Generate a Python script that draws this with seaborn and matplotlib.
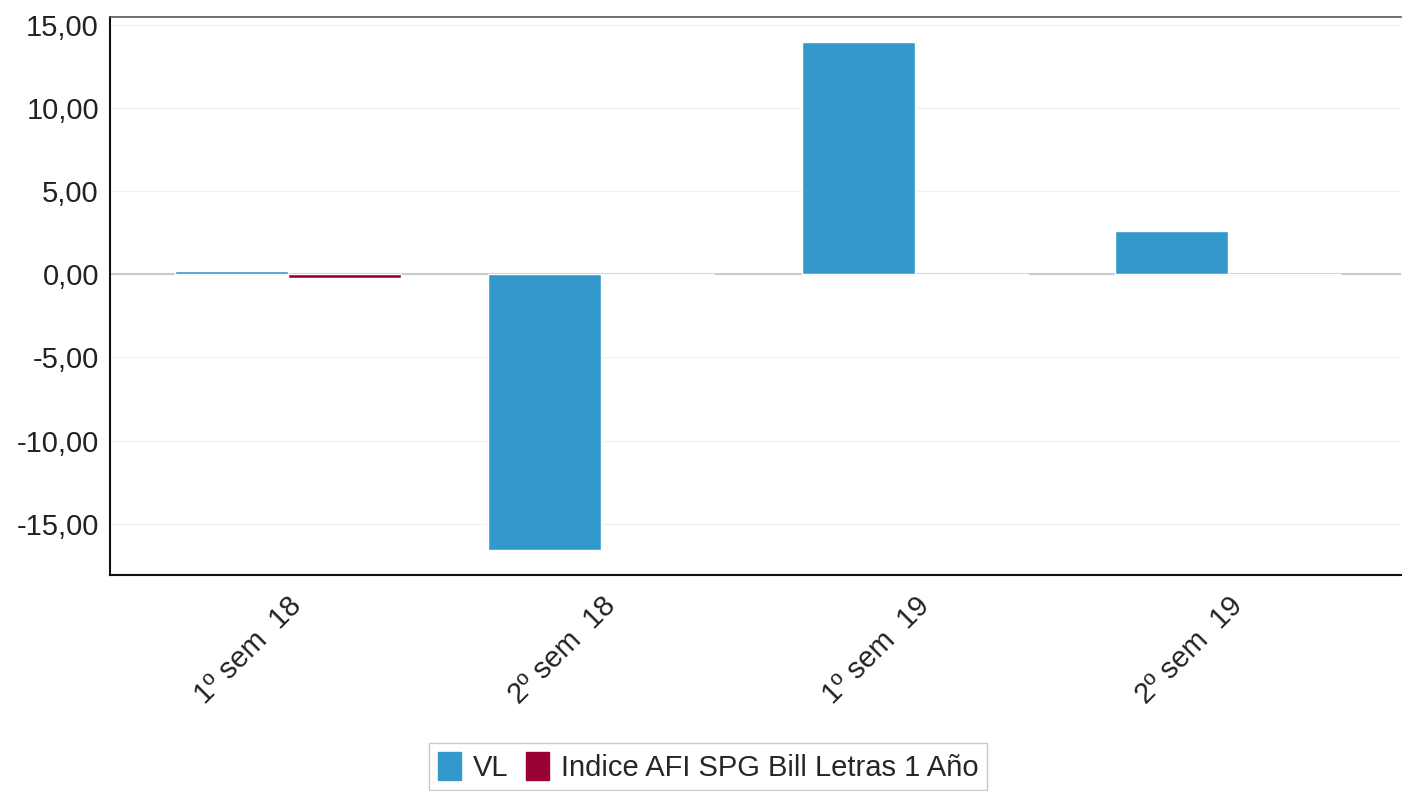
import matplotlib
matplotlib.use('Agg')
import matplotlib.pyplot as plt
import matplotlib.patches as mpatches
import numpy as np
import pandas as pd
import seaborn as sns

# data
periods = ['1º sem  18', '2º sem  18', '1º sem  19', '2º sem  19']
vl = [0.18, -16.6, 14.0, 2.6]
indice = [-0.24, -0.03, -0.03, 0.05]
series_names = ['VL', 'Indice AFI SPG Bill Letras 1 Año']
yticks = [-15, -10, -5, 0, 5, 10, 15]
ytick_labels = ['-15,00', '-10,00', '-5,00', '0,00', '5,00', '10,00', '15,00']

df = pd.DataFrame({
    'periodo': periods * 2,
    'valor': vl + indice,
    'serie': [series_names[0]] * 4 + [series_names[1]] * 4,
})

colores = ['#3399cc', '#990033']

sns.set_style('white')
plt.rcParams['font.family'] = ['Liberation Sans', 'DejaVu Sans']

fig = plt.figure(figsize=(14.03, 7.91), dpi=100)
ax = fig.add_axes([0.0784, 0.273, 0.92, 0.7055])

sns.barplot(data=df, x='periodo', y='valor', hue='serie', palette=colores,
            width=0.72, saturation=1, ax=ax, legend=False, zorder=3)

ax.set_xlim(-0.567, 3.55)
ax.set_ylim(-18.1, 15.5)
ax.set_yticks(yticks)
ax.set_yticklabels(ytick_labels, fontsize=21, color='#222222')
ax.yaxis.grid(True, color='#f2f2f2', linewidth=1, zorder=0)
ax.axhline(0, color='#cccccc', linewidth=1.5, zorder=2)
ax.set_xlabel('')
ax.set_ylabel('')

for lbl in ax.get_xticklabels():
    lbl.set_rotation(45)
    lbl.set_ha('right')
    lbl.set_rotation_mode('anchor')
    lbl.set_fontsize(21)
    lbl.set_color('#222222')
ax.tick_params(axis='x', pad=12, length=0)
ax.tick_params(axis='y', pad=8, length=0)

for side in ['left', 'bottom']:
    ax.spines[side].set_color('#111111')
    ax.spines[side].set_linewidth(1.5)
ax.spines['top'].set_color('#555555')
ax.spines['top'].set_linewidth(1.2)
ax.spines['right'].set_visible(False)

handles = [mpatches.Patch(color=c, label=n) for c, n in zip(colores, series_names)]
fig.legend(handles=handles, loc='upper center', bbox_to_anchor=(0.5046, 0.0607),
           borderaxespad=0, ncol=2, fontsize=21, frameon=True, fancybox=False,
           edgecolor='#bbbbbb', handlelength=0.8, handleheight=1.1,
           handletextpad=0.4, columnspacing=0.6, borderpad=0.3)

fig.savefig('out.png', dpi=100)
